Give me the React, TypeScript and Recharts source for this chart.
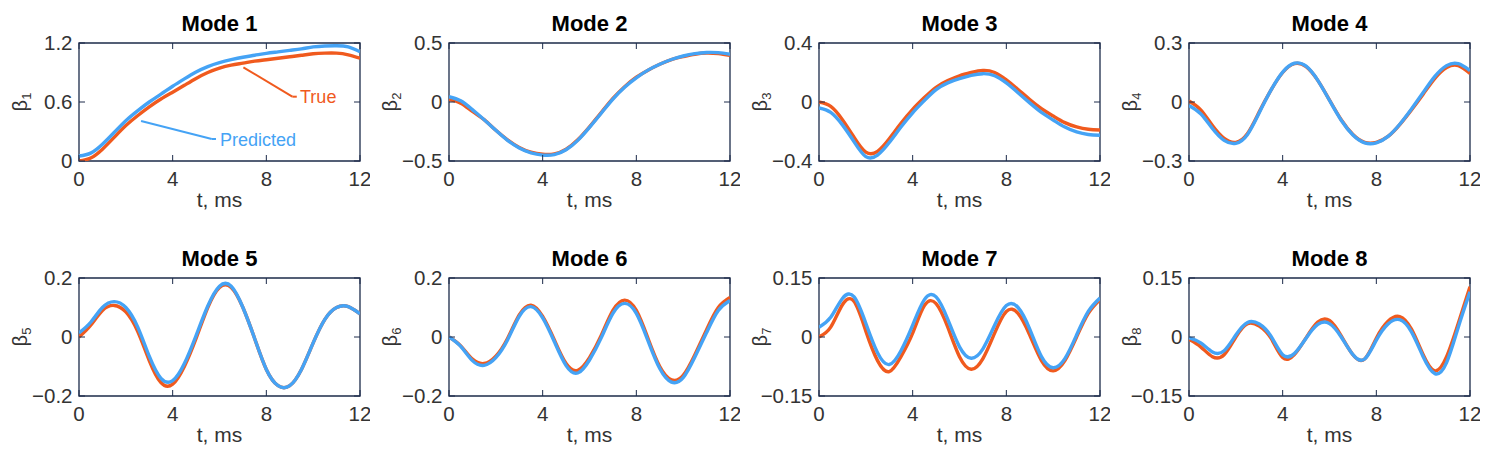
import { LineChart, Line, XAxis, YAxis, ReferenceLine, ReferenceDot, ReferenceArea } from 'recharts';

const T = [0, 0.5, 1, 1.5, 2, 2.5, 3, 3.5, 4, 4.5, 5, 5.5, 6, 6.5, 7, 7.5, 8, 8.5, 9, 9.5, 10, 10.5, 11, 11.5, 12];
const X_TICKS = [0, 4, 8, 12];

const mode1True = [0.0, 0.03, 0.12, 0.24, 0.36, 0.46, 0.55, 0.63, 0.7, 0.77, 0.84, 0.9, 0.945, 0.975, 0.995, 1.015, 1.03, 1.045, 1.06, 1.075, 1.09, 1.097, 1.097, 1.08, 1.045];
const mode1Pred = [0.05, 0.08, 0.17, 0.29, 0.41, 0.51, 0.6, 0.68, 0.76, 0.835, 0.905, 0.96, 1.0, 1.03, 1.055, 1.075, 1.095, 1.11, 1.125, 1.14, 1.16, 1.17, 1.172, 1.16, 1.11];

const mode2True = [0.02, -0.01, -0.08, -0.15, -0.24, -0.32, -0.385, -0.425, -0.443, -0.44, -0.4, -0.32, -0.21, -0.09, 0.03, 0.13, 0.21, 0.27, 0.32, 0.36, 0.385, 0.405, 0.415, 0.41, 0.395];
const mode2Pred = [0.045, 0.01, -0.065, -0.15, -0.24, -0.325, -0.39, -0.432, -0.45, -0.446, -0.405, -0.325, -0.215, -0.095, 0.025, 0.125, 0.205, 0.27, 0.32, 0.36, 0.39, 0.41, 0.42, 0.418, 0.405];

const mode3True = [0.0, -0.03, -0.12, -0.24, -0.34, -0.335, -0.25, -0.145, -0.05, 0.03, 0.1, 0.145, 0.178, 0.2, 0.214, 0.2, 0.15, 0.085, 0.017, -0.045, -0.095, -0.14, -0.169, -0.185, -0.19];
const mode3Pred = [-0.04, -0.07, -0.155, -0.27, -0.37, -0.36, -0.275, -0.17, -0.073, 0.01, 0.084, 0.13, 0.158, 0.18, 0.192, 0.178, 0.129, 0.063, -0.006, -0.07, -0.122, -0.17, -0.203, -0.22, -0.225];

const mode4True = [0.005, -0.04, -0.12, -0.185, -0.205, -0.16, -0.05, 0.06, 0.15, 0.195, 0.18, 0.11, 0.01, -0.09, -0.165, -0.205, -0.205, -0.175, -0.115, -0.04, 0.04, 0.12, 0.175, 0.185, 0.145];
const mode4Pred = [-0.018, -0.06, -0.135, -0.195, -0.21, -0.165, -0.055, 0.06, 0.152, 0.197, 0.182, 0.11, 0.008, -0.093, -0.168, -0.208, -0.208, -0.175, -0.113, -0.035, 0.048, 0.13, 0.185, 0.195, 0.16];

const mode5True = [0.0, 0.04, 0.09, 0.107, 0.085, 0.02, -0.08, -0.155, -0.16, -0.1, -0.005, 0.1, 0.168, 0.168, 0.1, -0.005, -0.11, -0.165, -0.165, -0.11, -0.02, 0.06, 0.1, 0.103, 0.078];
const mode5Pred = [0.014, 0.05, 0.1, 0.12, 0.1, 0.035, -0.065, -0.14, -0.148, -0.09, 0.005, 0.105, 0.172, 0.172, 0.1, -0.005, -0.11, -0.165, -0.165, -0.11, -0.02, 0.06, 0.1, 0.103, 0.078];

const mode6True = [0.0, -0.03, -0.075, -0.09, -0.065, -0.005, 0.075, 0.108, 0.07, -0.01, -0.09, -0.113, -0.07, 0.005, 0.09, 0.125, 0.09, -0.005, -0.1, -0.145, -0.13, -0.06, 0.025, 0.1, 0.134];
const mode6Pred = [0.0, -0.032, -0.08, -0.096, -0.07, -0.01, 0.07, 0.103, 0.065, -0.016, -0.097, -0.122, -0.078, -0.003, 0.08, 0.114, 0.08, -0.013, -0.107, -0.153, -0.138, -0.068, 0.015, 0.09, 0.124];

const mode7True = [0.0, 0.025, 0.082, 0.09, 0.015, -0.06, -0.088, -0.05, 0.01, 0.08, 0.085, 0.025, -0.05, -0.082, -0.055, 0.01, 0.065, 0.06, 0.005, -0.06, -0.086, -0.06, 0.0, 0.06, 0.095];
const mode7Pred = [0.025, 0.05, 0.098, 0.102, 0.035, -0.04, -0.07, -0.035, 0.03, 0.095, 0.102, 0.045, -0.025, -0.054, -0.03, 0.03, 0.08, 0.075, 0.02, -0.05, -0.078, -0.055, 0.005, 0.065, 0.099];

const mode8True = [-0.006, -0.025, -0.05, -0.045, 0.0, 0.034, 0.028, -0.003, -0.052, -0.045, -0.002, 0.038, 0.042, 0.003, -0.045, -0.056, -0.003, 0.04, 0.052, 0.02, -0.045, -0.086, -0.05, 0.035, 0.128];
const mode8Pred = [-0.002, -0.015, -0.038, -0.035, 0.005, 0.037, 0.033, 0.002, -0.045, -0.042, -0.003, 0.032, 0.034, 0.0, -0.045, -0.056, -0.008, 0.033, 0.044, 0.013, -0.05, -0.093, -0.065, 0.025, 0.115];

const TRUE_SERIES = [mode1True, mode2True, mode3True, mode4True, mode5True, mode6True, mode7True, mode8True];
const PRED_SERIES = [mode1Pred, mode2Pred, mode3Pred, mode4Pred, mode5Pred, mode6Pred, mode7Pred, mode8Pred];
const Y_MIN = [0, -0.5, -0.4, -0.3, -0.2, -0.2, -0.15, -0.15];
const Y_MAX = [1.2, 0.5, 0.4, 0.3, 0.2, 0.2, 0.15, 0.15];

const ORANGE = '#F05A1E';
const BLUE = '#45A3F5';
const AXIS = '#1C2B4A';
const TEXT = '#333333';
const FONT = '"Liberation Sans", Arial, Helvetica, sans-serif';
const TICK_LEN = 6;

// panel geometry (plot box inside each 370x232 chart)
const CHART_W = 370;
const CHART_H = 232;
const M_TOP = 43;
const M_RIGHT = 10;
const Y_AXIS_W = 79;
const X_AXIS_H = 71;
const PLOT_W = CHART_W - Y_AXIS_W - M_RIGHT;
const PLOT_H = CHART_H - M_TOP - X_AXIS_H;

const fmt = (v: number) => (v === 0 ? '0' : v < 0 ? '\u2212' + Math.abs(v) : String(v));

// bottom tick: inward tick on bottom and top edges + label below
const BottomTick = ({ x, y, payload }: any) => (
  <g>
    <line x1={x} y1={y} x2={x} y2={y - TICK_LEN} stroke={AXIS} strokeWidth={1} />
    <line x1={x} y1={y - PLOT_H} x2={x} y2={y - PLOT_H + TICK_LEN} stroke={AXIS} strokeWidth={1} />
    <text x={x} y={y + 25} textAnchor="middle" fontSize={20.5} fill={TEXT} fontFamily={FONT}>
      {fmt(payload.value)}
    </text>
  </g>
);

// left tick: inward tick on left and right edges + label
const LeftTick = ({ x, y, payload }: any) => (
  <g>
    <line x1={x} y1={y} x2={x + TICK_LEN} y2={y} stroke={AXIS} strokeWidth={1} />
    <line x1={x + PLOT_W} y1={y} x2={x + PLOT_W - TICK_LEN} y2={y} stroke={AXIS} strokeWidth={1} />
    <text x={x - 6.5} y={y} dy="0.36em" textAnchor="end" fontSize={20.5} fill={TEXT} fontFamily={FONT}>
      {fmt(payload.value)}
    </text>
  </g>
);

function ModePanel({ idx }: { idx: number }) {
  const n = idx + 1;
  const data = T.map((t, i) => ({ t, truth: TRUE_SERIES[idx][i], pred: PRED_SERIES[idx][i] }));
  const yMin = Y_MIN[idx];
  const yMax = Y_MAX[idx];
  const yTicks = [yMin, (yMin + yMax) / 2, yMax];
  const col = idx % 4;
  const row = Math.floor(idx / 4);

  return (
    <div style={{ position: 'absolute', left: col * 370, top: row * 235, width: CHART_W, height: CHART_H }}>
      <div
        style={{
          position: 'absolute',
          left: Y_AXIS_W,
          top: 13,
          width: PLOT_W,
          textAlign: 'center',
          fontFamily: FONT,
          fontWeight: 'bold',
          fontSize: 22,
          lineHeight: '22px',
          color: '#000',
        }}
      >
        Mode {n}
      </div>
      <LineChart width={CHART_W} height={CHART_H} data={data} margin={{ top: M_TOP, right: M_RIGHT, bottom: 0, left: 0 }}>
        <XAxis
          dataKey="t"
          type="number"
          domain={[0, 12]}
          ticks={X_TICKS}
          interval={0}
          allowDataOverflow
          height={X_AXIS_H}
          tickSize={0}
          tickMargin={0}
          tickLine={false}
          axisLine={false}
          tick={BottomTick}
          label={{ value: 't, ms', position: 'insideBottom', offset: 25, fill: TEXT, fontSize: 21, fontFamily: FONT }}
        />
        <YAxis
          type="number"
          domain={[yMin, yMax]}
          ticks={yTicks}
          interval={0}
          allowDataOverflow
          width={Y_AXIS_W}
          tickSize={0}
          tickMargin={0}
          tickLine={false}
          axisLine={false}
          tick={LeftTick}
        />
        <Line type="natural" dataKey="truth" stroke={ORANGE} strokeWidth={3.4} dot={false} isAnimationActive={false} />
        <Line type="natural" dataKey="pred" stroke={BLUE} strokeWidth={3.4} dot={false} isAnimationActive={false} />
        <ReferenceArea x1={0} x2={12} y1={yMin} y2={yMax} fill="none" stroke={AXIS} strokeWidth={1.3} fillOpacity={0} />
        {n === 1 && (
          <ReferenceLine segment={[{ x: 7.02, y: 0.953 }, { x: 9.11, y: 0.654 }]} stroke={ORANGE} strokeWidth={2} />
        )}
        {n === 1 && (
          <ReferenceLine segment={[{ x: 9.11, y: 0.654 }, { x: 9.3, y: 0.654 }]} stroke={ORANGE} strokeWidth={2} />
        )}
        {n === 1 && (
          <ReferenceLine segment={[{ x: 2.65, y: 0.407 }, { x: 5.67, y: 0.224 }]} stroke={BLUE} strokeWidth={2} />
        )}
        {n === 1 && (
          <ReferenceLine segment={[{ x: 5.67, y: 0.224 }, { x: 5.85, y: 0.224 }]} stroke={BLUE} strokeWidth={2} />
        )}
        {n === 1 && (
          <ReferenceDot
            x={9.44}
            y={0.654}
            r={0}
            fill="none"
            stroke="none"
            label={{ value: 'True', position: 'right', offset: 0, fill: ORANGE, fontSize: 18, fontFamily: FONT }}
          />
        )}
        {n === 1 && (
          <ReferenceDot
            x={6.02}
            y={0.214}
            r={0}
            fill="none"
            stroke="none"
            label={{ value: 'Predicted', position: 'right', offset: 0, fill: BLUE, fontSize: 18, fontFamily: FONT }}
          />
        )}
      </LineChart>
      <div
        style={{
          position: 'absolute',
          left: 23,
          top: M_TOP + PLOT_H / 2,
          transform: 'translate(-50%, -50%) rotate(-90deg)',
          fontFamily: FONT,
          fontSize: 20,
          color: TEXT,
          lineHeight: '20px',
          whiteSpace: 'nowrap',
        }}
      >
        β<sub style={{ fontSize: 13, verticalAlign: '-4px' }}>{n}</sub>
      </div>
    </div>
  );
}

export default function App() {
  return (
    <div style={{ position: 'absolute', left: 0, top: 0, width: 1495, height: 465, background: '#fff', overflow: 'hidden' }}>
      {TRUE_SERIES.map((_, i) => (
        <ModePanel key={i} idx={i} />
      ))}
    </div>
  );
}
